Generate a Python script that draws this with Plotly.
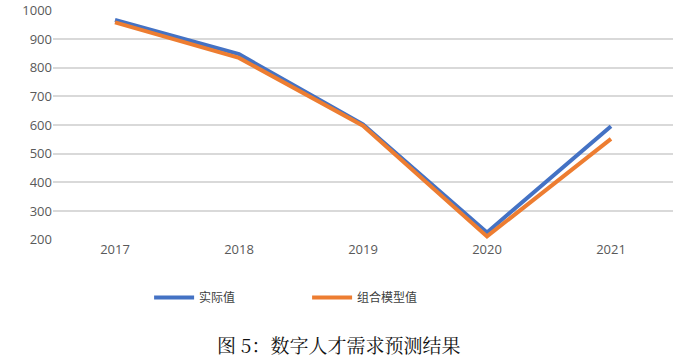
import plotly.graph_objects as go

years = ["2017", "2018", "2019", "2020", "2021"]
actual = [966, 847, 602, 226, 596]
combined = [958, 834, 598, 212, 552]
series_names = ["实际值", "组合模型值"]
y_ticks = [200, 300, 400, 500, 600, 700, 800, 900, 1000]
caption = "图 5：数字人才需求预测结果"

fig = go.Figure()
fig.add_trace(go.Scatter(x=years, y=actual, mode="lines", name=series_names[0],
                         line=dict(color="#4472C4", width=4)))
fig.add_trace(go.Scatter(x=years, y=combined, mode="lines", name=series_names[1],
                         line=dict(color="#ED7D31", width=4)))

fig.update_layout(
    width=676, height=360,
    margin=dict(l=53, r=3, t=10, b=120),
    paper_bgcolor="white", plot_bgcolor="white",
    font=dict(family="Open Sans, sans-serif", color="#595959", size=13),
    showlegend=True,
    legend=dict(orientation="h", x=0.155, xanchor="left", y=-0.25, yanchor="middle",
                font=dict(family="Noto Sans CJK SC, sans-serif", size=12, color="#404040"),
                entrywidth=103, entrywidthmode="pixels",
                itemwidth=40),
    xaxis=dict(type="category", range=[-0.5, 4.5], showgrid=False, showline=False,
               zeroline=False, ticks="", tickfont=dict(size=13, color="#595959")),
    yaxis=dict(range=[199.5, 1001], tickvals=y_ticks,
               showgrid=True, gridcolor="#D9D9D9",
               gridwidth=1.5, zeroline=False, showline=False, ticks="",
               ticklabeloverflow="allow",
               tickfont=dict(size=13, color="#595959"), automargin=False),
)
fig.add_annotation(text=caption, xref="paper", yref="paper", x=0.46, y=-0.455,
                   xanchor="center", yanchor="middle", showarrow=False,
                   font=dict(family="Noto Serif CJK SC, Liberation Serif, Noto Sans CJK SC, serif",
                             size=19, color="#111111"))
fig.write_html("out.html", config={"displayModeBar": False},
               post_script="document.body.style.margin='0';document.body.style.overflow='hidden';")
